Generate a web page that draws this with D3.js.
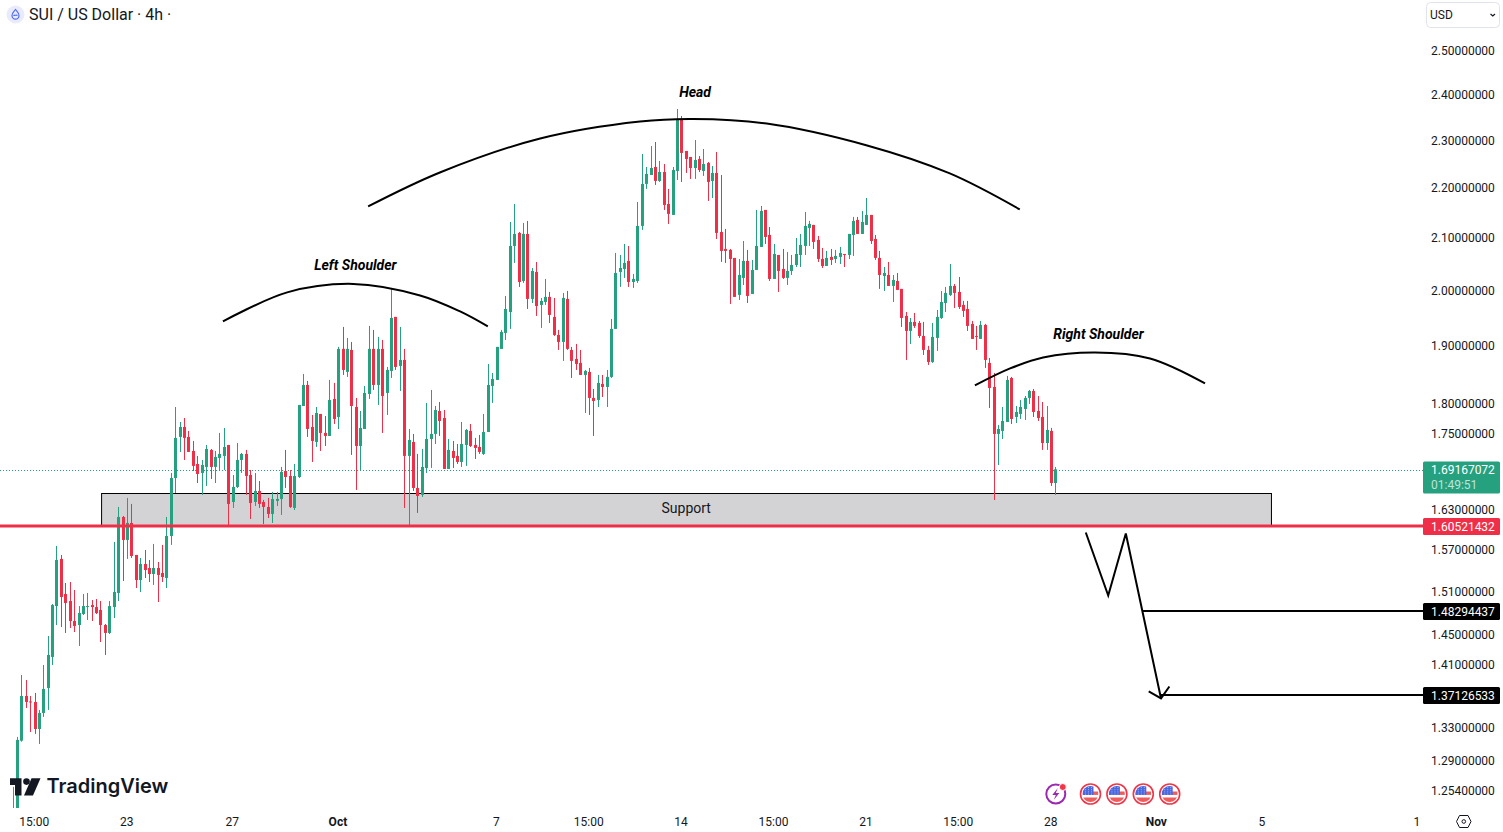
<!DOCTYPE html>
<html>
<head>
<meta charset="utf-8">
<script src="https://cdn.jsdelivr.net/npm/d3@7"></script>
<style>
  html, body { margin: 0; padding: 0; background: #fff; overflow: hidden; }
  text { font-family: Roboto, sans-serif; }
  .axis text { font-size: 12px; fill: #131722; }
  .axis path, .axis line { display: none; }
</style>
</head>
<body>
<svg id="chart" width="1503" height="832"></svg>
<script>
const opens = [
1.2220,1.2291,1.3134,1.3693,1.3623,1.3617,1.3278,1.3478,1.3796,1.4201,
1.4891,1.5560,1.5060,1.4961,1.4685,1.4630,1.4781,1.4877,1.4905,1.4877,
1.4836,1.4630,1.4522,1.4877,1.5074,1.6181,1.5838,1.6091,1.5618,1.5257,
1.5487,1.5429,1.5343,1.5429,1.5357,1.5286,1.5897,1.6780,1.7435,1.7598,
1.7435,1.7209,1.7001,1.6859,1.6954,1.7225,1.6954,1.7097,1.7129,1.7305,
1.6409,1.6640,1.7065,1.7161,1.6827,1.6409,1.6579,1.6409,1.6333,1.6227,
1.6425,1.6455,1.6890,1.6812,1.6318,1.6796,1.7946,1.8301,1.7598,1.7354,
1.7813,1.7500,1.7451,1.8064,1.7763,1.8927,1.8525,1.8909,1.7929,1.7289,
1.7565,1.8148,1.8927,1.8301,1.8927,1.8165,1.8542,1.9500,1.8629,1.8733,
1.7129,1.7354,1.6625,1.6517,1.6938,1.7402,1.7484,1.7862,1.7746,1.6922,
1.7209,1.7129,1.7033,1.7305,1.7533,1.7305,1.7273,1.7161,1.7516,1.8284,
1.8387,1.8927,1.9211,1.9590,2.0834,2.1089,2.0165,2.1069,1.9830,2.0335,
1.9719,1.9774,1.9867,1.9500,1.9175,1.9050,1.9830,1.8909,1.8751,1.8681,
1.8473,1.8525,1.8081,1.8047,1.8319,1.8267,1.8439,1.9283,2.0335,2.0392,
2.0545,2.0146,2.0165,2.1227,2.2075,2.2260,2.2426,2.2136,2.2322,2.1666,
2.1446,2.2343,2.3453,2.2764,2.2637,2.2405,2.2595,2.2343,2.2510,2.2136,
2.2302,2.1108,2.0776,2.0757,2.0603,1.9904,2.0222,2.0545,1.9922,2.0373,
2.0815,2.1546,2.1049,2.0203,2.0660,2.0392,2.0222,2.0354,2.0468,2.0660,
2.0834,2.1187,2.1247,2.0951,2.0583,2.0449,2.0622,2.0583,2.0622,2.0679,
2.0660,2.1049,2.1346,2.1069,2.1247,2.1446,2.0971,2.0603,2.0259,2.0278,
2.0072,2.0165,2.0016,1.9518,1.9247,1.9409,1.9391,1.9157,1.8909,1.8698,
1.9122,1.9481,1.9755,1.9904,2.0072,1.9960,1.9719,1.9645,1.9373,1.9157,
1.9104,1.9355,1.8681,1.8267,1.7484,1.7533,1.7680,1.8421,1.7763,1.7813,
1.7896,1.8081,1.8199,1.7862,1.7763,1.7337,1.7533,1.6702];

const highs = [
1.2581,1.3180,1.3964,1.3899,1.3693,1.3732,1.3516,1.4095,1.4481,1.4919,
1.5750,1.5617,1.5215,1.5229,1.5116,1.4891,1.5060,1.5074,1.4975,1.4989,
1.4961,1.4644,1.4961,1.5809,1.6333,1.6196,1.6471,1.6379,1.5618,1.5574,
1.5691,1.5545,1.5779,1.5516,1.5765,1.6181,1.6859,1.7929,1.7680,1.7746,
1.7533,1.7370,1.7129,1.7065,1.7305,1.7241,1.7209,1.7500,1.7582,1.7305,
1.6827,1.7338,1.7177,1.7225,1.6906,1.6859,1.6733,1.6440,1.6471,1.6563,
1.6563,1.6954,1.7225,1.6906,1.7001,1.7963,1.8490,1.8370,1.7796,1.7929,
1.7813,1.7779,1.8387,1.8336,1.8962,1.9319,1.9122,1.9050,1.8081,1.7862,
1.8284,1.9337,1.9265,1.9140,1.9086,1.8611,2.0034,1.9500,1.9319,1.8927,
1.7565,1.7484,1.7161,1.7241,1.7997,1.8216,1.7946,1.8013,1.7879,1.7402,
1.7370,1.7321,1.7680,1.7565,1.7647,1.7419,1.7467,1.7813,1.8663,1.8507,
1.8962,1.9265,1.9885,2.1306,2.1666,2.1108,2.1286,2.1326,2.0411,2.0526,
1.9848,2.0203,1.9960,1.9848,1.9265,1.9941,1.9978,1.8962,1.9015,1.8909,
1.8559,1.8594,1.8233,1.8473,1.8473,1.8559,1.9463,2.0699,2.0660,2.0873,
2.0834,2.0297,2.1707,2.2700,2.2426,2.2869,2.2955,2.2553,2.2489,2.1972,
2.2426,2.3672,2.3519,2.2764,2.2637,2.2998,2.2658,2.2806,2.2531,2.2447,
2.2743,2.2260,2.1168,2.0776,2.0603,2.0583,2.0931,2.0757,2.0564,2.1546,
2.1626,2.1546,2.1207,2.0873,2.0660,2.0776,2.0718,2.0660,2.0990,2.1069,
2.1506,2.1326,2.1247,2.1030,2.0796,2.0738,2.0776,2.0757,2.0815,2.0679,
2.1069,2.1406,2.1406,2.1526,2.1787,2.1446,2.1049,2.0738,2.0430,2.0526,
2.0278,2.0316,2.0016,1.9590,1.9481,1.9572,1.9427,1.9409,1.8980,1.9391,
1.9627,1.9978,2.0053,2.0487,2.0109,2.0241,1.9793,1.9793,1.9427,1.9337,
1.9427,1.9373,1.8768,1.8507,1.7631,1.7929,1.8456,1.8439,1.7946,1.8047,
1.8114,1.8216,1.8233,1.8114,1.8013,1.7946,1.7582,1.6954];

const lows = [
1.2180,1.2250,1.3122,1.3541,1.3241,1.3217,1.3094,1.3428,1.3516,1.4095,
1.4630,1.4603,1.4522,1.4589,1.4535,1.4347,1.4768,1.4699,1.4685,1.4781,
1.4400,1.4227,1.4508,1.4726,1.4961,1.5243,1.5560,1.5574,1.5144,1.5088,
1.5286,1.5229,1.5187,1.4947,1.5229,1.5144,1.5765,1.6548,1.7193,1.7065,
1.7193,1.6890,1.6702,1.6517,1.6656,1.6765,1.6702,1.6906,1.6906,1.6061,
1.6318,1.6625,1.6859,1.6517,1.6151,1.6348,1.6318,1.6076,1.6166,1.6091,
1.6348,1.6212,1.6625,1.6318,1.6287,1.6780,1.7946,1.7435,1.7033,1.7273,
1.7209,1.7289,1.7451,1.7647,1.7565,1.8473,1.8439,1.7145,1.6594,1.6906,
1.7565,1.8064,1.8216,1.7963,1.7500,1.7796,1.8421,1.8559,1.8199,1.6318,
1.6046,1.6579,1.6242,1.6486,1.6859,1.6938,1.7321,1.7451,1.6922,1.6922,
1.6938,1.7001,1.6954,1.6970,1.7273,1.7081,1.7161,1.7145,1.7516,1.7997,
1.8387,1.8927,1.9086,1.9283,2.0507,2.0053,2.0128,1.9645,1.9755,1.9518,
1.9301,1.9719,1.9391,1.9157,1.8909,1.8716,1.8909,1.8421,1.8559,1.8473,
1.7829,1.7796,1.7451,1.7929,1.8097,1.7929,1.8421,1.9283,2.0053,2.0222,
2.0053,2.0034,2.0128,2.1148,2.1972,2.2260,2.2054,2.2116,2.1546,2.1267,
2.1446,2.2157,2.2116,2.2302,2.2178,2.2178,2.2322,2.2240,2.1727,2.1787,
2.0971,2.0526,2.0507,1.9737,1.9867,1.9811,2.0090,1.9755,1.9922,2.0373,
2.0815,2.0873,2.0165,2.0203,1.9960,2.0203,2.0090,2.0278,2.0430,2.0430,
2.0660,2.0834,2.0776,2.0526,2.0411,2.0449,2.0468,2.0507,2.0487,2.0430,
2.0583,2.0641,2.1069,2.1069,2.1247,2.0873,2.0564,2.0016,1.9978,2.0072,
1.9774,1.9997,1.9319,1.8733,1.9015,1.9301,1.9122,1.8821,1.8646,1.8681,
1.8891,1.9463,1.9590,1.9885,1.9664,1.9645,1.9500,1.9247,1.9104,1.8909,
1.9104,1.8594,1.7912,1.6440,1.6985,1.7402,1.7680,1.7647,1.7663,1.7730,
1.7713,1.7980,1.7763,1.7696,1.7225,1.7225,1.6656,1.6517];

const closes = [
1.2291,1.3143,1.3693,1.3617,1.3617,1.3278,1.3478,1.3783,1.4227,1.4905,
1.5545,1.5017,1.4933,1.4685,1.4617,1.4795,1.4891,1.4891,1.4877,1.4795,
1.4630,1.4522,1.4891,1.5088,1.6181,1.5838,1.6091,1.5603,1.5257,1.5487,
1.5400,1.5343,1.5429,1.5329,1.5300,1.5897,1.6780,1.7419,1.7598,1.7419,
1.7193,1.6970,1.6843,1.6985,1.7241,1.6954,1.7113,1.7161,1.7273,1.6379,
1.6640,1.7065,1.7161,1.6812,1.6394,1.6579,1.6379,1.6333,1.6227,1.6455,
1.6455,1.6875,1.6796,1.6333,1.6812,1.7963,1.8301,1.7565,1.7370,1.7829,
1.7500,1.7451,1.8047,1.7730,1.8927,1.8559,1.8927,1.7946,1.7289,1.7582,
1.8165,1.8927,1.8301,1.8927,1.8114,1.8559,1.9481,1.8611,1.8733,1.7129,
1.7386,1.6625,1.6501,1.6954,1.7402,1.7484,1.7879,1.7696,1.6922,1.7225,
1.7097,1.7033,1.7321,1.7549,1.7289,1.7257,1.7193,1.7516,1.8301,1.8404,
1.8962,1.9229,1.9645,2.0834,2.1069,2.0146,2.1069,1.9830,2.0354,1.9700,
1.9793,1.9867,1.9536,1.9175,1.9050,1.9848,1.8927,1.8716,1.8663,1.8473,
1.8542,1.8081,1.8030,1.8336,1.8267,1.8439,1.9283,2.0316,2.0411,2.0507,
2.0146,2.0203,2.1227,2.2075,2.2281,2.2405,2.2136,2.2322,2.1646,2.1466,
2.2364,2.3453,2.2722,2.2595,2.2405,2.2574,2.2364,2.2489,2.2116,2.2302,
2.1089,2.0738,2.0738,2.0583,1.9867,2.0278,2.0545,1.9885,2.0373,2.0834,
2.1526,2.1010,2.0203,2.0679,2.0354,2.0222,2.0354,2.0468,2.0679,2.0854,
2.1227,2.1267,2.0912,2.0583,2.0449,2.0603,2.0564,2.0641,2.0699,2.0660,
2.1069,2.1326,2.1069,2.1306,2.1446,2.0931,2.0603,2.0278,2.0316,2.0072,
2.0184,1.9997,1.9481,1.9247,1.9409,1.9337,1.9157,1.8909,1.8698,1.9140,
1.9500,1.9774,1.9941,2.0072,1.9941,1.9682,1.9609,1.9337,1.9104,1.9140,
1.9355,1.8733,1.8250,1.7484,1.7565,1.7696,1.8387,1.7730,1.7846,1.7929,
1.8081,1.8199,1.7846,1.7746,1.7337,1.7549,1.6702,1.69167];

// price axis labels
const priceTicks = [2.5, 2.4, 2.3, 2.2, 2.1, 2.0, 1.9, 1.8, 1.75, 1.63, 1.57, 1.51, 1.45, 1.41, 1.33, 1.29, 1.254];

// time axis labels, by bar number
const timeTickBars = [5, 26, 50, 74, 110, 131, 152, 173, 194, 215, 236, 260, 284, 320];
const timeTickLabels = ['15:00', '23', '27', 'Oct', '7', '15:00', '14', '15:00', '21', '15:00', '28', 'Nov', '5', '11'];

// drawings, as [bar, price]
const leftShoulder = [[47.6,1.9427],[62.2,1.9960],[77.2,2.0119],[92.4,1.9904],[101.5,1.9609],[107.8,1.9337]];
const headArc = [[80.6,2.1626],[96.9,2.2322],[119.7,2.3041],[142.4,2.3409],[154.4,2.3464],[171.2,2.3365],[194.0,2.2892],[212.8,2.2302],[228.7,2.1566]];
const rightShoulder = [[218.5,1.8301],[226.5,1.8594],[234.0,1.8785],[245.8,1.8873],[258.3,1.8768],[270.8,1.8336]];
const zigzag = [[243.7,1.5956],[248.8,1.5045],[252.8,1.5942],[260.8,1.3668]];
const arrowHead = [[258.0,1.3757],[260.8,1.3668],[262.7,1.3821]];

const supportBars = [20.02, 285.9];
const supportPrices = [1.6540, 1.60521];

const lastPrice = 1.69167072;
const breakPrice = 1.60521432;
const target1 = 1.48294437;
const target2 = 1.37126533;
const target1Bar = 256.7;
const target2Bar = 260.6;

const flagBars = [245, 251, 257, 263];
const boltBar = 237;

const green = '#26a17f', red = '#ef2f48', ink = '#131722';
const paneW = 1423, paneH = 808;

const svg = d3.select('#chart');
const x = d3.scaleLinear().domain([0, 237]).range([13.5, 1056.3]);
const y = d3.scaleLog().domain([2.5, 1.254]).range([51, 790.8]);

const defs = svg.append('defs');
defs.append('clipPath').attr('id', 'pane')
  .append('rect').attr('width', paneW).attr('height', paneH);
defs.append('clipPath').attr('id', 'timeClip')
  .append('rect').attr('y', paneH).attr('width', 1421).attr('height', 832 - paneH);
defs.append('clipPath').attr('id', 'flagClip')
  .append('circle').attr('r', 8);

const pane = svg.append('g').attr('clip-path', 'url(#pane)');

// support box sits behind the candles
pane.append('rect')
  .attr('x', x(supportBars[0]))
  .attr('y', Math.round(y(supportPrices[0])) - 0.5)
  .attr('width', x(supportBars[1]) - x(supportBars[0]))
  .attr('height', y(supportPrices[1]) - y(supportPrices[0]))
  .attr('fill', '#d3d3d5')
  .attr('stroke', '#000')
  .attr('stroke-width', 1);

// last price dotted line
pane.append('line')
  .attr('x1', 0).attr('x2', paneW)
  .attr('y1', Math.round(y(lastPrice)) + 0.5).attr('y2', Math.round(y(lastPrice)) + 0.5)
  .attr('stroke', green)
  .attr('stroke-dasharray', '1 2');

// candles
const bars = d3.range(opens.length);
const barColor = i => closes[i] >= opens[i] ? green : red;
const barLeft = i => Math.floor(x(i) - 1.5);

const candles = pane.append('g').attr('transform', 'translate(0, -0.5)');
candles.selectAll('rect.wick')
    .data(bars)
  .join('rect')
    .attr('class', 'wick')
    .attr('x', i => barLeft(i) + 1)
    .attr('y', i => y(highs[i]))
    .attr('width', 1)
    .attr('height', i => y(lows[i]) - y(highs[i]))
    .attr('fill', barColor);
candles.selectAll('rect.body')
    .data(bars)
  .join('rect')
    .attr('class', 'body')
    .attr('x', barLeft)
    .attr('y', i => y(Math.max(opens[i], closes[i])))
    .attr('width', 3)
    .attr('height', i => Math.max(1, Math.abs(y(opens[i]) - y(closes[i]))))
    .attr('fill', barColor);

// break line
pane.append('line')
  .attr('x1', 0).attr('x2', paneW)
  .attr('y1', y(breakPrice)).attr('y2', y(breakPrice))
  .attr('stroke', red)
  .attr('stroke-width', 3);

pane.append('text')
  .attr('x', x(152.9)).attr('y', y(1.632))
  .attr('text-anchor', 'middle').attr('dy', '0.35em')
  .attr('font-size', 14)
  .attr('fill', ink)
  .text('Support');

// arcs and zigzag
const arc = d3.line().x(d => x(d[0])).y(d => y(d[1])).curve(d3.curveCatmullRom);
const straight = d3.line().x(d => x(d[0])).y(d => y(d[1]));
pane.selectAll('path.arc')
    .data([leftShoulder, headArc, rightShoulder])
  .join('path')
    .attr('class', 'arc')
    .attr('d', arc)
    .attr('fill', 'none')
    .attr('stroke', '#000')
    .attr('stroke-width', 2);
pane.selectAll('path.zig')
    .data([zigzag, arrowHead])
  .join('path')
    .attr('class', 'zig')
    .attr('d', straight)
    .attr('fill', 'none')
    .attr('stroke', '#000')
    .attr('stroke-width', 2);

[[target1Bar, target1], [target2Bar, target2]].forEach(t => {
  pane.append('line')
    .attr('x1', x(t[0])).attr('x2', paneW)
    .attr('y1', y(t[1])).attr('y2', y(t[1]))
    .attr('stroke', '#000')
    .attr('stroke-width', 2);
});

// pattern labels
const patternLabels = [['Left Shoulder', 77.7, 2.0468], ['Head', 154.9, 2.406], ['Right Shoulder', 246.6, 1.9202]];
pane.selectAll('text.pattern')
    .data(patternLabels)
  .join('text')
    .attr('class', 'pattern')
    .attr('x', d => x(d[1]))
    .attr('y', d => y(d[2]))
    .attr('dy', '0.35em')
    .attr('text-anchor', 'middle')
    .attr('font-size', 14)
    .attr('font-weight', 700)
    .attr('font-style', 'italic')
    .attr('fill', '#000')
    .text(d => d[0]);

// price axis
svg.append('g')
  .attr('class', 'axis')
  .attr('transform', 'translate(1431, 0)')
  .call(d3.axisRight(y).tickValues(priceTicks).tickSize(0).tickPadding(0).tickFormat(d3.format('.8f')));

// time axis
const timeAxis = svg.append('g').attr('clip-path', 'url(#timeClip)').append('g')
  .attr('class', 'axis')
  .attr('transform', `translate(-1.7, ${paneH + 4})`)
  .call(d3.axisBottom(x)
    .tickValues(timeTickBars)
    .tickSize(0)
    .tickPadding(5)
    .tickFormat((d, i) => timeTickLabels[i]));
timeAxis.selectAll('text')
  .style('font-weight', (d, i) => (timeTickLabels[i] === 'Oct' || timeTickLabels[i] === 'Nov') ? 700 : null);

// price tags
const tags = [
  {v: breakPrice, fill: red},
  {v: target1, fill: '#000'},
  {v: target2, fill: '#000'}
];
const tagG = svg.selectAll('g.tag').data(tags).join('g').attr('class', 'tag')
  .attr('transform', d => `translate(1423, ${Math.round(y(d.v)) + 0.5})`);
tagG.append('rect')
  .attr('y', -8.5).attr('width', 77).attr('height', 17).attr('rx', 1.5)
  .attr('fill', d => d.fill);
tagG.append('text')
  .attr('x', 8).attr('dy', '0.35em')
  .attr('font-size', 12).attr('fill', '#fff')
  .text(d => d.v.toFixed(8));

const lastTag = svg.append('g').attr('transform', `translate(1423, ${Math.round(y(lastPrice))})`);
lastTag.append('rect')
  .attr('y', -8.5).attr('width', 77).attr('height', 32).attr('rx', 1.5)
  .attr('fill', green);
lastTag.append('text')
  .attr('x', 8).attr('dy', '0.35em')
  .attr('font-size', 12).attr('fill', '#fff')
  .text(lastPrice.toFixed(8));
lastTag.append('text')
  .attr('x', 8).attr('y', 14.5).attr('dy', '0.35em')
  .attr('font-size', 12).attr('fill', '#bfe3d8')
  .text('01:49:51');

// header
svg.append('circle').attr('cx', 15.5).attr('cy', 14.5).attr('r', 9).attr('fill', '#e9eafb');
svg.append('path')
  .attr('d', 'M15.5,9.5 C17,11.5 19,13 19,15.5 A3.5,3.7 0 0 1 12,15.5 C12,13 14,11.5 15.5,9.5 Z M13.5,15 C14.5,16 16.5,14.5 17.5,15.5')
  .attr('fill', 'none')
  .attr('stroke', '#4e6cf0')
  .attr('stroke-width', 1.2);
svg.append('text')
  .attr('x', 29).attr('y', 14.5).attr('dy', '0.35em')
  .attr('font-size', 16).attr('fill', ink)
  .text('SUI / US Dollar · 4h ·');

// currency box
svg.append('rect')
  .attr('x', 1426.5).attr('y', 2.5).attr('width', 73).attr('height', 25).attr('rx', 4)
  .attr('fill', '#fff').attr('stroke', '#e0e3eb');
svg.append('text')
  .attr('x', 1430).attr('y', 15).attr('dy', '0.35em')
  .attr('font-size', 12).attr('fill', ink)
  .text('USD');
svg.append('path')
  .attr('d', 'M1490.5,14 L1492.8,16 L1495,14')
  .attr('fill', 'none').attr('stroke', ink).attr('stroke-width', 1.2);

// logo
const logo = svg.append('g').attr('fill', '#131722');
logo.append('path').attr('d', 'M10,778.3 H21.5 V795.6 H15 V785 H10 Z');
logo.append('circle').attr('cx', 26.5).attr('cy', 781.6).attr('r', 3.3);
logo.append('path').attr('d', 'M31.5,778.3 H40.5 L33,795.6 H24 Z');
logo.append('text')
  .attr('x', 46.5).attr('y', 786).attr('dy', '0.35em')
  .style('font-family', 'Inter, sans-serif')
  .attr('font-size', 20).attr('font-weight', 600)
  .text('TradingView');

// event icons
const evY = 794;
const bolt = svg.append('g').attr('transform', `translate(${x(boltBar) - 0.5}, ${evY})`);
bolt.append('circle').attr('r', 9.5).attr('fill', '#fff').attr('stroke', '#9c27b0').attr('stroke-width', 2);
bolt.append('path').attr('d', 'M2,-6 L-3.5,1 H0 L-2,6 L3.5,-1 H0 Z').attr('fill', '#9c27b0');
bolt.append('circle').attr('cx', 7).attr('cy', -7).attr('r', 3.5).attr('fill', '#f23645').attr('stroke', '#fff');

const flags = svg.selectAll('g.flag').data(flagBars).join('g').attr('class', 'flag')
  .attr('transform', d => `translate(${x(d) - 1}, ${evY})`);
flags.append('circle').attr('r', 10).attr('fill', '#fff').attr('stroke', '#ef3648').attr('stroke-width', 1.6);
const flagBody = flags.append('g').attr('clip-path', 'url(#flagClip)');
flagBody.append('rect').attr('x', -8).attr('y', -8).attr('width', 16).attr('height', 16).attr('fill', '#fff');
flagBody.append('rect').attr('x', -8).attr('y', -2.5).attr('width', 16).attr('height', 3.4).attr('fill', '#ee5c5c');
flagBody.append('rect').attr('x', -8).attr('y', 3.5).attr('width', 16).attr('height', 5).attr('fill', '#ee5c5c');
flagBody.append('rect').attr('x', -8).attr('y', -8).attr('width', 11).attr('height', 9).attr('fill', '#4a67e0');
flagBody.selectAll('line.stars').data([-5, -2, 1]).join('line')
  .attr('class', 'stars')
  .attr('x1', d => d).attr('x2', d => d).attr('y1', -7).attr('y2', 1)
  .attr('stroke', '#c9d2f5').attr('stroke-width', 0.7).attr('stroke-dasharray', '1 1.2');

// settings hexagon
svg.append('path')
  .attr('d', 'M1459.5,815.5 H1468 L1471,821.5 L1468,827.5 H1459.5 L1456.5,821.5 Z')
  .attr('fill', 'none').attr('stroke', ink).attr('stroke-width', 1);
svg.append('circle').attr('cx', 1463.8).attr('cy', 821.5).attr('r', 1.8)
  .attr('fill', 'none').attr('stroke', ink).attr('stroke-width', 1);
</script>
</body>
</html>
